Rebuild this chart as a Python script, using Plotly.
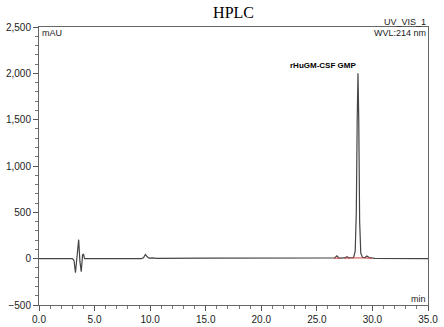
import plotly.graph_objects as go

# Chromatogram key points (retention time in min, signal in mAU)
time_min = [0.0, 3.0, 3.15, 3.28, 3.42, 3.57, 3.68, 3.8, 3.92, 4.0, 4.1, 4.25,
            9.2, 9.4, 9.57, 9.75, 9.9, 10.2, 10.6, 15.0, 20.0, 26.4, 26.6, 26.8,
            27.0, 27.5, 27.7, 27.9, 28.3, 28.45, 28.55, 28.63, 28.7, 28.77, 28.85,
            28.95, 29.1, 29.3, 29.5, 29.7, 29.9, 30.2, 35.0]
signal_mau = [0, 0, -20, -150, 20, 205, -30, -140, 40, 50, 0, 0,
              0, 10, 45, 20, 5, 8, 3, 5, 6, 5, 8, 30,
              5, 8, 22, 8, 10, 80, 500, 1500, 2000, 1500, 400,
              60, 15, 10, 28, 12, 5, 3, 0]

# integration baseline segments (red)
base_t = [26.55, 27.1, None, 27.45, 28.0, None, 28.1, 29.2, None, 29.25, 29.95]
base_v = [5, 5, None, 6, 6, None, 8, 8, None, 8, 4]

peak_label = "rHuGM-CSF GMP"
peak_t, peak_v = 28.7, 2000

x_ticks = [0, 5, 10, 15, 20, 25, 30, 35]
y_ticks = [-500, 0, 500, 1000, 1500, 2000, 2500]

fig = go.Figure()
fig.add_trace(go.Scatter(x=time_min, y=signal_mau, mode="lines",
                         line=dict(color="#444444", width=1.2), showlegend=False))
fig.add_trace(go.Scatter(x=base_t, y=base_v, mode="lines",
                         line=dict(color="#d04040", width=1), showlegend=False))

font_ax = dict(family="Liberation Sans, Arial", size=10, color="#222")
fig.update_xaxes(range=[0, 35], tickvals=x_ticks, tickformat=".1f", automargin=False,
                 ticks="outside", ticklen=5, tickcolor="#555",
                 minor=dict(dtick=1, ticks="outside", ticklen=3, tickcolor="#777"),
                 showline=True, linecolor="#666", linewidth=1, mirror=True,
                 showgrid=False, zeroline=False, tickfont=font_ax)
fig.update_yaxes(range=[-500, 2500], tickvals=y_ticks, tickformat=",d", automargin=False,
                 ticks="outside", ticklen=5, tickcolor="#555",
                 minor=dict(dtick=100, ticks="outside", ticklen=3, tickcolor="#777"),
                 showline=True, linecolor="#666", linewidth=1, mirror=True,
                 showgrid=False, zeroline=False, tickfont=font_ax)

fig.add_annotation(x=peak_t, y=peak_v, text="<b>" + peak_label + "</b>", showarrow=False,
                   xanchor="right", yanchor="bottom", yshift=1, xshift=0,
                   font=dict(family="Liberation Sans Narrow, Liberation Sans, Arial", size=8, color="#000"))
fig.add_annotation(x=1, y=1, xref="paper", yref="paper", text="UV_VIS_1", showarrow=False,
                   xanchor="right", yanchor="bottom", yshift=-2,
                   font=dict(family="Liberation Sans, Arial", size=9, color="#222"))
fig.add_annotation(x=1, y=1, xref="paper", yref="paper", text="WVL:214 nm", showarrow=False,
                   xanchor="right", yanchor="top", yshift=1,
                   font=dict(family="Liberation Sans, Arial", size=9, color="#222"))
fig.add_annotation(x=0, y=1, xref="paper", yref="paper", text="mAU", showarrow=False,
                   xanchor="left", yanchor="top", yshift=1, xshift=1,
                   font=dict(family="Liberation Sans, Arial", size=9, color="#222"))
fig.add_annotation(x=1, y=0, xref="paper", yref="paper", text="min", showarrow=False,
                   xanchor="right", yanchor="bottom", yshift=-1,
                   font=dict(family="Liberation Sans, Arial", size=9, color="#222"))

fig.update_layout(width=444, height=327, margin=dict(l=39, r=16, t=27, b=22),
                  paper_bgcolor="white", plot_bgcolor="white",
                  title=dict(text="HPLC", x=0.526, xanchor="center", y=0.963, yanchor="middle",
                             font=dict(family="Liberation Serif, Times New Roman", size=16, color="#000")))

fig.write_html("out.html")
